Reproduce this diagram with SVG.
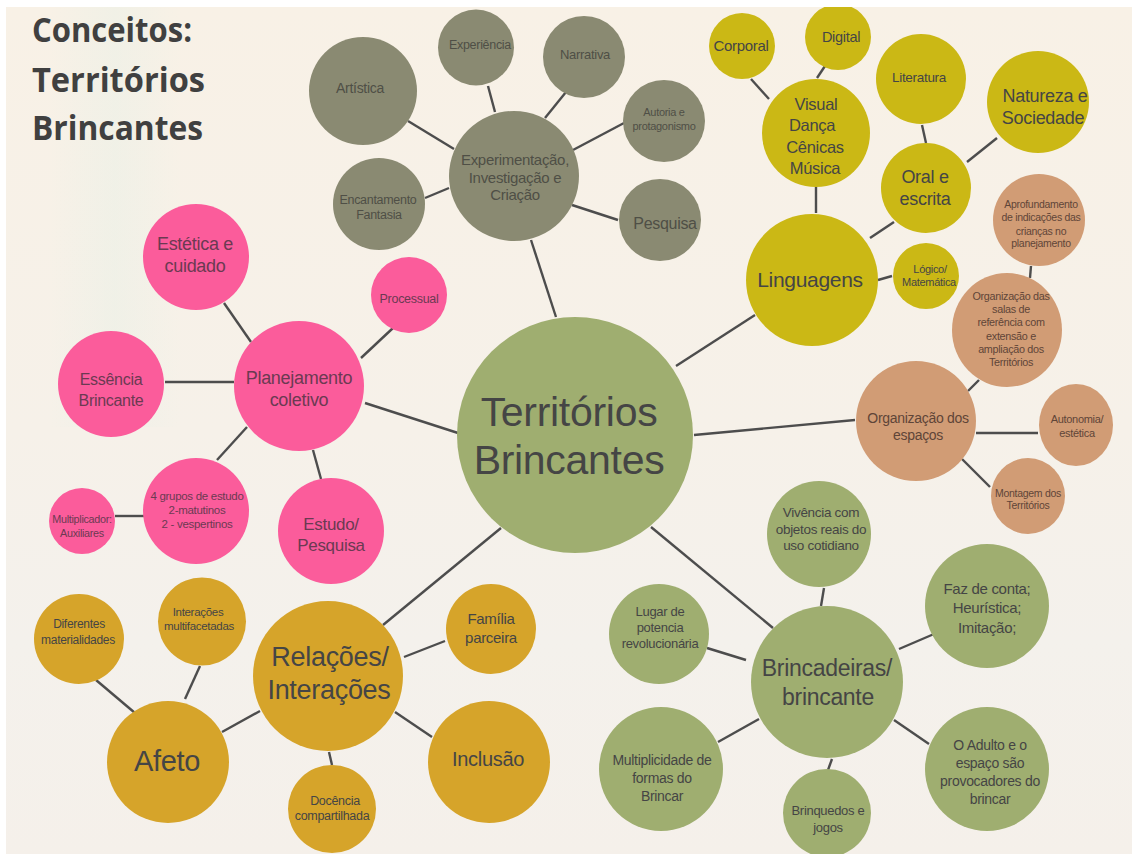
<svg xmlns="http://www.w3.org/2000/svg" width="1132" height="854" viewBox="0 0 1132 854">
<defs>
<linearGradient id="bg" x1="0" y1="0" x2="0" y2="1"><stop offset="0" stop-color="#f8f1e6"/><stop offset=".5" stop-color="#f6f1e9"/><stop offset=".75" stop-color="#f4f1ec"/><stop offset="1" stop-color="#f5f0ea"/></linearGradient>
<linearGradient id="band" x1="0" y1="0" x2="1" y2="0"><stop offset="0" stop-color="#e6f0e6" stop-opacity="0"/><stop offset=".5" stop-color="#e6f0e6" stop-opacity=".4"/><stop offset="1" stop-color="#e6f0e6" stop-opacity="0"/></linearGradient>
</defs>
<style>
text{font-family:"Liberation Sans",Arial,sans-serif;fill:#454545;text-anchor:middle;letter-spacing:-.3px}
.t{font-family:"Open Sans",sans-serif;font-weight:700;font-size:34px;text-anchor:start;fill:#404040;letter-spacing:0}
.g{fill:#8a8a72}.y{fill:#cbb815}.o{fill:#d19c75}.v{fill:#9fae70}.a{fill:#d6a42a}.p{fill:#fb5c9b}
.p~text{fill:#6b3a52}.o~text{fill:#5f4538}.g~text{fill:#4f4f46}
.c line{stroke:#4d4d4d;stroke-width:2.4}
</style>
<rect x="6" y="7" width="1126" height="847" fill="url(#bg)"/>
<rect x="50" y="7" width="130" height="420" fill="url(#band)"/>
<g id="connectors" class="c">
<line x1="556" y1="317" x2="531" y2="240"/><line x1="495" y1="112" x2="488" y2="86"/><line x1="545" y1="118" x2="566" y2="92"/><line x1="573" y1="150" x2="624" y2="123"/><line x1="572" y1="205" x2="618" y2="220"/><line x1="454" y1="149" x2="408" y2="121"/><line x1="449" y1="188" x2="425" y2="198"/>
<line x1="676" y1="366" x2="755" y2="315"/><line x1="816" y1="213" x2="816" y2="187"/><line x1="769" y1="99" x2="751" y2="79"/><line x1="817" y1="78" x2="825" y2="66"/><line x1="870" y1="238" x2="894" y2="222"/><line x1="926" y1="143" x2="922" y2="125"/><line x1="967" y1="162" x2="997" y2="138"/><line x1="878" y1="280" x2="892" y2="276"/>
<line x1="694" y1="435" x2="855" y2="420"/><line x1="968" y1="391" x2="979" y2="380"/><line x1="1031" y1="266" x2="1030" y2="278"/><line x1="976" y1="433" x2="1038" y2="433"/><line x1="962" y1="459" x2="990" y2="487"/>
<line x1="651" y1="527" x2="773" y2="628"/><line x1="824" y1="588" x2="821" y2="606"/><line x1="899" y1="649" x2="934" y2="634"/><line x1="894" y1="720" x2="929" y2="744"/><line x1="832" y1="759" x2="828" y2="770"/><line x1="759" y1="719" x2="718" y2="742"/><line x1="746" y1="660" x2="707" y2="648"/>
<line x1="501" y1="528" x2="383" y2="625"/><line x1="404" y1="657" x2="445" y2="641"/><line x1="395" y1="712" x2="432" y2="737"/><line x1="329" y1="752" x2="332" y2="765"/><line x1="260" y1="711" x2="222" y2="732"/><line x1="200" y1="666" x2="185" y2="699"/><line x1="96" y1="680" x2="135" y2="713"/>
<line x1="458" y1="433" x2="365" y2="403"/><line x1="361" y1="358" x2="393" y2="328"/><line x1="251" y1="342" x2="224" y2="303"/><line x1="234" y1="382" x2="165" y2="382"/><line x1="247" y1="427" x2="217" y2="460"/><line x1="313" y1="450" x2="321" y2="479"/><line x1="144" y1="516" x2="115" y2="516"/>
</g>
<text class="t" x="32" y="42" textLength="160" lengthAdjust="spacingAndGlyphs">Conceitos:</text>
<text class="t" x="32" y="92" textLength="173" lengthAdjust="spacingAndGlyphs">Territórios</text>
<text class="t" x="32" y="140" textLength="171" lengthAdjust="spacingAndGlyphs">Brincantes</text>
<g id="territorios"><circle class="v" cx="575" cy="435" r="118"/><text font-size="41" x="569" y="426">Territórios</text><text font-size="41" x="569" y="474">Brincantes</text></g>
<g id="experimentacao"><circle class="g" cx="514" cy="176" r="65"/><text font-size="15" x="515" y="165">Experimentação,</text><text font-size="15" x="515" y="183">Investigação e</text><text font-size="15" x="515" y="200">Criação</text></g>
<g id="artistica"><circle class="g" cx="363" cy="91" r="54"/><text font-size="14" x="360" y="93">Artística</text></g>
<g id="experiencia"><circle class="g" cx="476" cy="47.5" r="38"/><text font-size="12.5" x="480" y="49">Experiência</text></g>
<g id="narrativa"><circle class="g" cx="584" cy="57" r="41"/><text font-size="13" x="585" y="59">Narrativa</text></g>
<g id="autoria"><circle class="g" cx="664" cy="121" r="41"/><text font-size="11" x="664" y="116">Autoria e</text><text font-size="11" x="664" y="130">protagonismo</text></g>
<g id="pesquisa"><circle class="g" cx="660" cy="220" r="41"/><text font-size="16" x="665" y="229">Pesquisa</text></g>
<g id="encantamento"><circle class="g" cx="379" cy="204" r="46"/><text font-size="12.5" x="378" y="204">Encantamento</text><text font-size="12.5" x="379" y="219">Fantasia</text></g>
<g id="corporal"><circle class="y" cx="742" cy="46" r="33"/><text font-size="15" x="741" y="51">Corporal</text></g>
<g id="digital"><circle class="y" cx="838" cy="37" r="33"/><text font-size="14.5" x="841" y="42">Digital</text></g>
<g id="visual"><circle class="y" cx="816" cy="133" r="54"/><text font-size="16.5" x="816" y="110">Visual</text><text font-size="16.5" x="812" y="131">Dança</text><text font-size="16.5" x="815" y="153">Cênicas</text><text font-size="16.5" x="815" y="174">Música</text></g>
<g id="literatura"><circle class="y" cx="921" cy="79" r="45"/><text font-size="13.5" x="919" y="82">Literatura</text></g>
<g id="natureza"><circle class="y" cx="1038" cy="102" r="51"/><text font-size="18" x="1045" y="102">Natureza e</text><text font-size="18" x="1043" y="124">Sociedade</text></g>
<g id="oral"><circle class="y" cx="926" cy="188" r="45"/><text font-size="18" x="925" y="183">Oral e</text><text font-size="18" x="925" y="205">escrita</text></g>
<g id="linguagens"><circle class="y" cx="812" cy="280" r="66"/><text font-size="21" x="810" y="287">Linguagens</text></g>
<g id="logico"><circle class="y" cx="926" cy="276" r="33"/><text font-size="11" x="930" y="273">Lógico/</text><text font-size="11" x="929" y="286">Matemática</text></g>
<g id="aprofundamento"><circle class="o" cx="1039" cy="220" r="46"/><text font-size="10.5" x="1041" y="208">Aprofundamento</text><text font-size="10.5" x="1041" y="221">de indicações das</text><text font-size="10.5" x="1041" y="235">crianças no</text><text font-size="10.5" x="1041" y="247">planejamento</text></g>
<g id="organizacao-salas"><ellipse class="o" cx="1007" cy="330" rx="55" ry="57"/><text font-size="10.8" x="1011" y="300">Organização das</text><text font-size="10.8" x="1011" y="313">salas de</text><text font-size="10.8" x="1011" y="326">referência com</text><text font-size="10.8" x="1011" y="340">extensão  e</text><text font-size="10.8" x="1011" y="353">ampliação dos</text><text font-size="10.8" x="1011" y="366">Territórios</text></g>
<g id="organizacao-espacos"><circle class="o" cx="916" cy="421" r="60"/><text font-size="14" x="918" y="423">Organização dos</text><text font-size="14" x="918" y="440">espaços</text></g>
<g id="autonomia"><ellipse class="o" cx="1076" cy="425" rx="37" ry="41"/><text font-size="11" x="1077" y="423">Autonomia/</text><text font-size="11" x="1077" y="437">estética</text></g>
<g id="montagem"><ellipse class="o" cx="1028" cy="496" rx="37" ry="38"/><text font-size="10.5" x="1028" y="497">Montagem dos</text><text font-size="10.5" x="1028" y="509">Territórios</text></g>
<g id="vivencia"><ellipse class="v" cx="819" cy="534" rx="52" ry="53"/><text font-size="13.5" x="821" y="517">Vivência com</text><text font-size="13.5" x="821" y="534">objetos reais do</text><text font-size="13.5" x="821" y="550">uso cotidiano</text></g>
<g id="faz"><circle class="v" cx="987" cy="606" r="62"/><text font-size="15" x="987" y="594">Faz de conta;</text><text font-size="15" x="987" y="613">Heurística;</text><text font-size="15" x="987" y="633">Imitação;</text></g>
<g id="lugar"><circle class="v" cx="659" cy="634" r="50"/><text font-size="13" x="660" y="616">Lugar de</text><text font-size="13" x="660" y="632">potencia</text><text font-size="13" x="660" y="648">revolucionária</text></g>
<g id="brincadeiras"><circle class="v" cx="827" cy="682" r="76"/><text font-size="23" x="827" y="676">Brincadeiras/</text><text font-size="23" x="828" y="705">brincante</text></g>
<g id="multiplicidade"><circle class="v" cx="661" cy="769" r="62"/><text font-size="14" x="662" y="765">Multiplicidade de</text><text font-size="14" x="662" y="783">formas do</text><text font-size="14" x="662" y="801">Brincar</text></g>
<g id="brinquedos"><circle class="v" cx="827" cy="813" r="44"/><text font-size="13" x="828" y="815">Brinquedos e</text><text font-size="13" x="828" y="832">jogos</text></g>
<g id="adulto"><circle class="v" cx="987" cy="769" r="62"/><text font-size="14" x="990" y="750">O Adulto e o</text><text font-size="14" x="990" y="768">espaço são</text><text font-size="14" x="990" y="786">provocadores do</text><text font-size="14" x="990" y="804">brincar</text></g>
<g id="relacoes"><circle class="a" cx="328" cy="676" r="75"/><text font-size="27" x="330" y="666">Relações/</text><text font-size="27" x="329" y="699">Interações</text></g>
<g id="familia"><circle class="a" cx="491" cy="629" r="45"/><text font-size="15" x="491" y="624">Família</text><text font-size="15" x="491" y="643">parceira</text></g>
<g id="inclusao"><circle class="a" cx="489" cy="762" r="61"/><text font-size="20" x="488" y="766">Inclusão</text></g>
<g id="docencia"><circle class="a" cx="332" cy="809" r="44"/><text font-size="12.5" x="335" y="805">Docência</text><text font-size="12.5" x="332" y="820">compartilhada</text></g>
<g id="afeto"><circle class="a" cx="168" cy="762" r="61"/><text font-size="29" x="167" y="771">Afeto</text></g>
<g id="interacoes"><circle class="a" cx="202" cy="621.5" r="44"/><text font-size="11.5" x="198" y="616">Interações</text><text font-size="11.5" x="199" y="630">multifacetadas</text></g>
<g id="diferentes"><circle class="a" cx="79" cy="639" r="45"/><text font-size="12" x="79" y="628">Diferentes</text><text font-size="12" x="78" y="644">materialidades</text></g>
<g id="planejamento"><circle class="p" cx="299" cy="386" r="65"/><text font-size="18" x="299" y="384">Planejamento</text><text font-size="18" x="299" y="406">coletivo</text></g>
<g id="estetica"><circle class="p" cx="196" cy="257" r="53"/><text font-size="18" x="195" y="250">Estética e</text><text font-size="18" x="195" y="272">cuidado</text></g>
<g id="processual"><circle class="p" cx="409" cy="295" r="38"/><text font-size="12.5" x="409" y="303">Processual</text></g>
<g id="essencia"><circle class="p" cx="111" cy="384" r="53"/><text font-size="16" x="111" y="385">Essência</text><text font-size="16" x="111" y="406">Brincante</text></g>
<g id="grupos"><circle class="p" cx="196" cy="511" r="53"/><text font-size="11.5" x="197" y="500">4 grupos  de estudo</text><text font-size="11.5" x="197" y="514">2-matutinos</text><text font-size="11.5" x="197" y="528">2 - vespertinos</text></g>
<g id="multiplicador"><circle class="p" cx="82" cy="521" r="33"/><text font-size="10.8" x="82" y="523">Multiplicador:</text><text font-size="10.8" x="82" y="537">Auxiliares</text></g>
<g id="estudo"><circle class="p" cx="331" cy="531" r="53"/><text font-size="17" x="331" y="530">Estudo/</text><text font-size="17" x="331" y="551">Pesquisa</text></g>
<rect width="1132" height="7" fill="#fff"/>
</svg>
